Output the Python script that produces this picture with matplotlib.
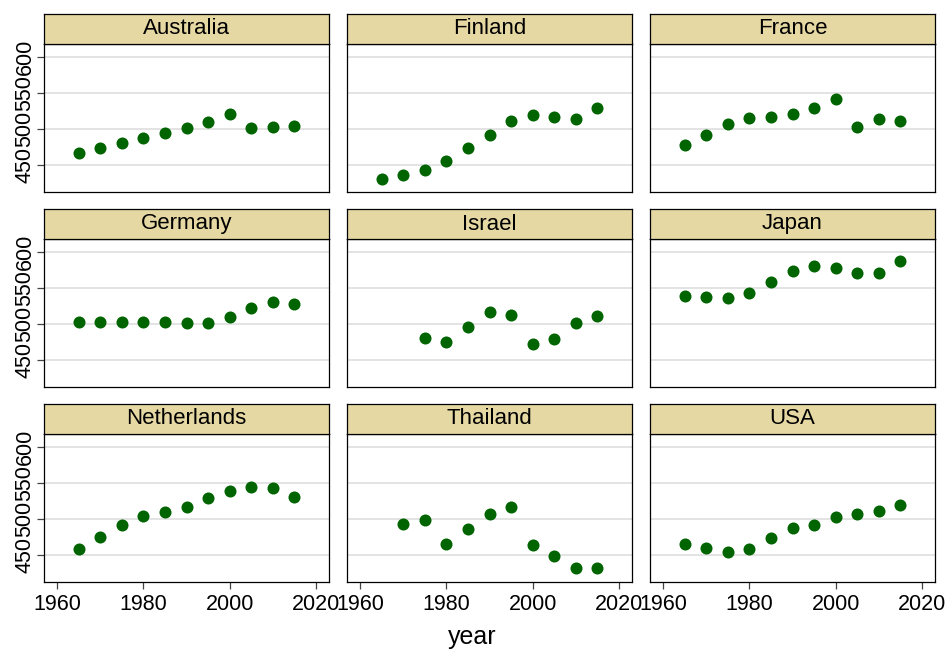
import matplotlib
matplotlib.use('Agg')
import matplotlib.pyplot as plt

plt.rcParams['font.family'] = ['Liberation Sans', 'DejaVu Sans']

countries = ['Australia', 'Finland', 'France',
             'Germany', 'Israel', 'Japan',
             'Netherlands', 'Thailand', 'USA']

years_full = [1965, 1970, 1975, 1980, 1985, 1990, 1995, 2000, 2005, 2010, 2015]
years_israel = [1975, 1980, 1985, 1990, 1995, 2000, 2005, 2010, 2015]
years_thailand = [1970, 1975, 1980, 1985, 1990, 1995, 2000, 2005, 2010, 2015]

australia = [466, 473, 480, 487, 494, 501, 509, 521, 501, 502, 504]
finland = [430, 436, 443, 455, 473, 491, 511, 519, 517, 514, 529]
france = [477, 491, 506, 515, 517, 520, 529, 542, 503, 514, 511]
germany = [503, 503, 503, 502.5, 502, 501.5, 501, 509, 522, 531, 527]
israel = [480, 475, 495, 516, 512, 472, 479, 501, 511]
japan = [539, 537, 536, 543, 558, 574, 581, 578, 570, 571, 588]
netherlands = [458, 475, 492, 504, 510, 516, 529, 538, 544, 543, 531]
thailand = [493, 498, 465, 486, 507, 516, 464, 448, 431, 432]
usa = [465, 460, 454, 458, 473, 487, 492, 503, 507, 511, 519]

series = {
    'Australia': (years_full, australia),
    'Finland': (years_full, finland),
    'France': (years_full, france),
    'Germany': (years_full, germany),
    'Israel': (years_israel, israel),
    'Japan': (years_full, japan),
    'Netherlands': (years_full, netherlands),
    'Thailand': (years_thailand, thailand),
    'USA': (years_full, usa),
}

W, H = 946, 649
fig = plt.figure(figsize=(W / 100, H / 100), dpi=100)

col_left = [44, 347, 650]
row_top = [44, 239, 434]
pw, ph, sh = 285, 148, 30

for i, name in enumerate(countries):
    r, c = divmod(i, 3)
    x0 = col_left[c]
    y0 = row_top[r]
    ax = fig.add_axes([x0 / W, 1 - (y0 + ph) / H, pw / W, ph / H])
    strip = fig.add_axes([x0 / W, 1 - y0 / H, pw / W, sh / H])
    strip.set_facecolor('#e6d8a3')
    strip.set_xticks([])
    strip.set_yticks([])
    for s in strip.spines.values():
        s.set_color('black')
        s.set_linewidth(0.9)
    strip.text(0.5, 0.5, name, ha='center', va='center', fontsize=16,
               transform=strip.transAxes)

    xs, ys = series[name]
    ax.scatter(xs, ys, s=75, color='#006400', zorder=3, linewidths=0)
    ax.set_xlim(1957, 2023)
    ax.set_ylim(412, 618)
    ax.set_yticks([450, 500, 550, 600])
    ax.set_xticks([1960, 1980, 2000, 2020])
    ax.grid(axis='y', color='#e3e3e3', linewidth=1.4)
    ax.set_axisbelow(True)
    for s in ax.spines.values():
        s.set_color('black')
        s.set_linewidth(0.9)
    ax.tick_params(axis='both', labelsize=15.5, length=5, width=0.9,
                   color='#444444')
    if c == 0:
        ax.tick_params(axis='y', pad=1)
        for lab in ax.get_yticklabels():
            lab.set_rotation(90)
            lab.set_va('center')
    else:
        ax.tick_params(axis='y', left=False, labelleft=False)
    if r == 2:
        ax.tick_params(axis='x', pad=4)
    else:
        ax.tick_params(axis='x', bottom=False, labelbottom=False)

fig.text(472 / W, 1 - 637 / H, 'year', ha='center', va='center', fontsize=18)

plt.savefig('out.png', dpi=100)
